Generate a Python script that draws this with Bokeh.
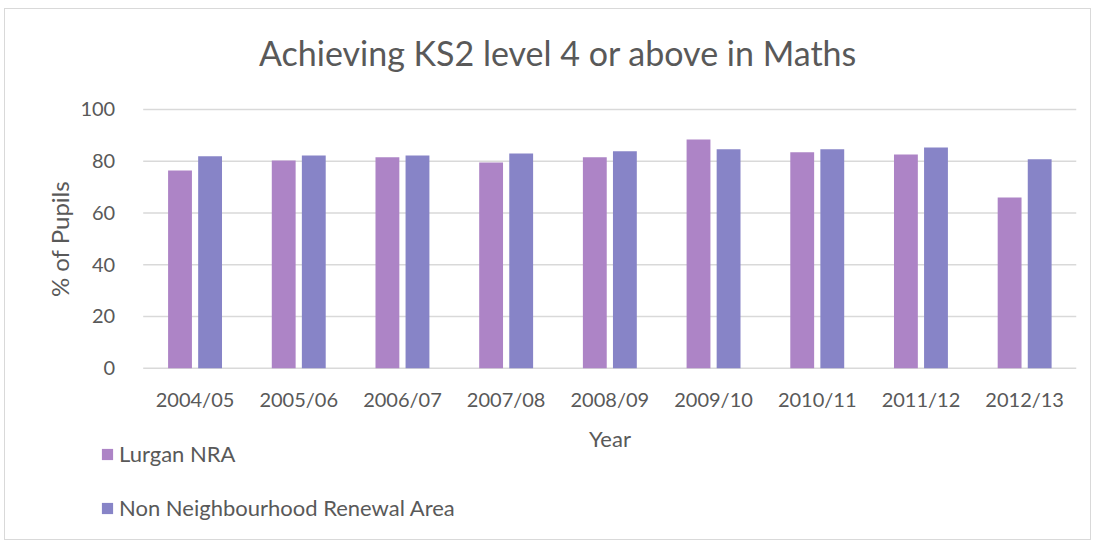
from bokeh.plotting import figure
from bokeh.models import Range1d, ColumnDataSource, Legend, LegendItem, FixedTicker, Label
from bokeh.transform import dodge
from bokeh.embed import file_html
from bokeh.resources import INLINE

title_text = "Achieving KS2 level 4 or above in Maths"
years = ["2004/05", "2005/06", "2006/07", "2007/08", "2008/09",
         "2009/10", "2010/11", "2011/12", "2012/13"]
lurgan_nra = [76.4, 80.3, 81.5, 79.5, 81.5, 88.4, 83.4, 82.6, 66.0]
non_nra = [81.9, 82.2, 82.2, 83.0, 83.8, 84.6, 84.6, 85.3, 80.7]
y_ticks = [0, 20, 40, 60, 80, 100]

FONT = "Lato"
TXT = "#595959"
GRID = "#D9D9D9"

pos = list(range(1, len(years) + 1))
src = ColumnDataSource(dict(x=pos, years=years, lurgan=lurgan_nra, non=non_nra))

p = figure(x_range=Range1d(-0.5, len(years) + 0.5), y_range=Range1d(-60, 138.6),
           width=1085, height=530, frame_width=1037, frame_height=514,
           min_border_left=34, min_border_top=0, min_border_right=14,
           min_border_bottom=16,
           output_backend="svg", toolbar_location=None)
p.styles = {"border": "1px solid #D9D9D9", "margin-left": "4px", "margin-top": "8px"}

# chart title
p.add_layout(Label(x=4.5, y=122, text=title_text, text_align="center",
                   text_baseline="middle", text_font=FONT, text_font_size="34px",
                   text_color=TXT))

# horizontal gridlines spanning the category area only
p.segment(x0=0.5, x1=len(years) + 0.5, y0=y_ticks, y1=y_ticks,
          line_color=GRID, line_width=1.5)

r1 = p.vbar(x=dodge("x", -0.145), top="lurgan", width=0.23,
            source=src, color="#AD84C6", line_color=None)
r2 = p.vbar(x=dodge("x", 0.145), top="non", width=0.23,
            source=src, color="#8784C7", line_color=None)

p.outline_line_color = None
p.xgrid.grid_line_color = None
p.ygrid.grid_line_color = None

yax = p.yaxis[0]
yax.fixed_location = 0.5
yax.bounds = (0, 100)
yax.ticker = FixedTicker(ticks=y_ticks)
yax.axis_line_color = None
yax.major_tick_line_color = None
yax.minor_tick_line_color = None
yax.major_label_text_font = FONT
yax.major_label_text_font_size = "20px"
yax.major_label_text_color = TXT
yax.major_label_standoff = 22
yax.axis_label = "% of Pupils"
yax.axis_label_text_font = FONT
yax.axis_label_text_font_size = "24px"
yax.axis_label_text_font_style = "normal"
yax.axis_label_text_color = TXT
yax.axis_label_standoff = 4

xax = p.xaxis[0]
xax.fixed_location = 0
xax.bounds = (0.5, len(years) + 0.5)
xax.ticker = FixedTicker(ticks=pos)
xax.major_label_overrides = {k: v for k, v in zip(pos, years)}
xax.axis_line_color = None
xax.major_tick_line_color = None
xax.minor_tick_line_color = None
xax.major_label_text_font = FONT
xax.major_label_text_font_size = "20px"
xax.major_label_text_color = TXT
xax.major_label_standoff = 13
xax.axis_label = "Year"
xax.axis_label_text_font = FONT
xax.axis_label_text_font_size = "22px"
xax.axis_label_text_font_style = "normal"
xax.axis_label_text_color = TXT
xax.axis_label_standoff = 10

legend = Legend(items=[LegendItem(label="Lurgan NRA", renderers=[r1]),
                       LegendItem(label="Non Neighbourhood Renewal Area", renderers=[r2])],
                location=(61, 2))
legend.border_line_color = None
legend.background_fill_alpha = 0
legend.padding = 0
legend.margin = 0
legend.spacing = 27
legend.glyph_width = 14
legend.glyph_height = 14
legend.label_standoff = 5
legend.label_text_font = FONT
legend.label_text_font_size = "22px"
legend.label_text_color = TXT
p.add_layout(legend)

open("out.html", "w").write(file_html(p, INLINE))
